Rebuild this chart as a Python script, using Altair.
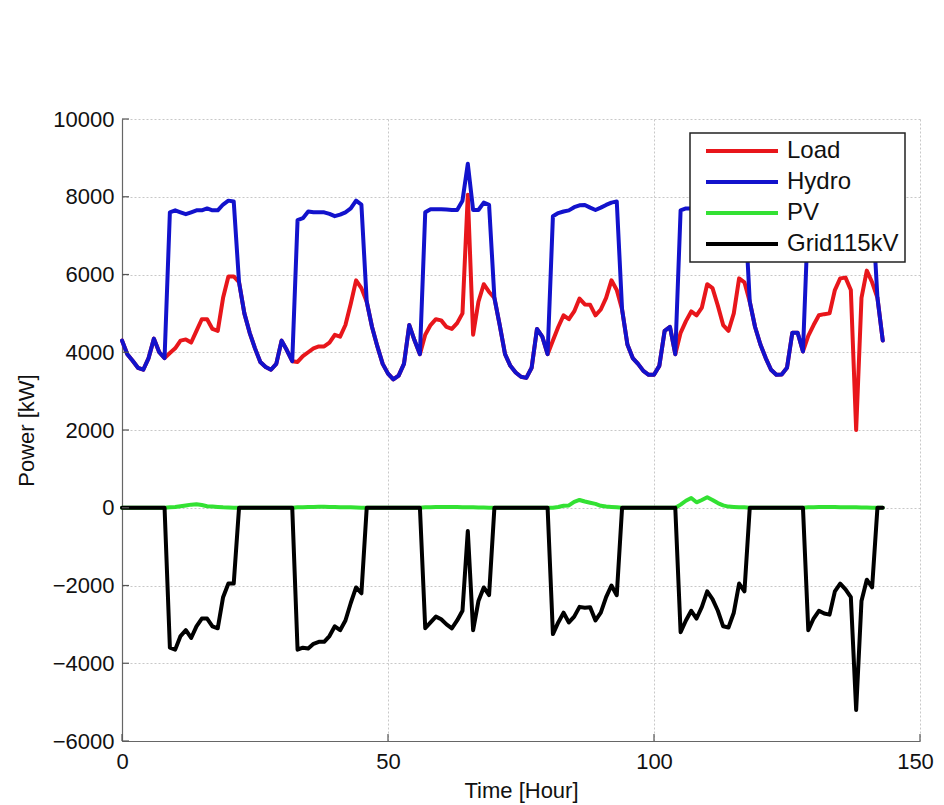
import altair as alt
import pandas as pd

hours = list(range(144))

# Hydro [kW], one row per day (24 h)
hydro = (
    [4300, 3950, 3780, 3600, 3550, 3850, 4350, 4000, 3850, 7600, 7650, 7600, 7550, 7600, 7650, 7650, 7700, 7650, 7650, 7800, 7900, 7880, 5800, 5000]
    + [4500, 4100, 3750, 3620, 3550, 3700, 4300, 4050, 3770, 7400, 7450, 7620, 7600, 7600, 7600, 7560, 7500, 7540, 7600, 7700, 7900, 7800, 5300, 4650]
    + [4150, 3700, 3450, 3300, 3400, 3700, 4700, 4300, 3950, 7600, 7680, 7680, 7680, 7670, 7660, 7660, 7900, 8850, 7660, 7660, 7850, 7790, 5400, 4700]
    + [3950, 3650, 3480, 3370, 3340, 3600, 4600, 4400, 3950, 7500, 7580, 7620, 7650, 7730, 7780, 7790, 7720, 7660, 7720, 7790, 7850, 7880, 5100, 4200]
    + [3850, 3700, 3520, 3420, 3420, 3650, 4550, 4650, 3950, 7650, 7700, 7700, 7750, 7700, 7800, 7800, 7800, 7750, 7650, 7700, 7900, 7900, 5300, 4650]
    + [4200, 3850, 3550, 3420, 3430, 3600, 4500, 4500, 4020, 7600, 7600, 7550, 7700, 7700, 7700, 7850, 8000, 7900, 7200, 7800, 7950, 7850, 5400, 4300]
)

# Load [kW]
load = (
    [4300, 3950, 3780, 3600, 3550, 3850, 4350, 4000, 3850, 3980, 4100, 4300, 4330, 4250, 4550, 4850, 4850, 4600, 4550, 5400, 5950, 5950, 5800, 5000]
    + [4500, 4100, 3750, 3620, 3550, 3700, 4300, 4050, 3770, 3750, 3900, 4000, 4100, 4150, 4150, 4250, 4450, 4400, 4700, 5250, 5850, 5650, 5300, 4650]
    + [4150, 3700, 3450, 3300, 3400, 3700, 4700, 4300, 3950, 4450, 4700, 4850, 4820, 4650, 4600, 4750, 5000, 8050, 4450, 5300, 5750, 5550, 5400, 4700]
    + [3950, 3650, 3480, 3370, 3340, 3600, 4600, 4400, 3950, 4300, 4650, 4950, 4850, 5050, 5380, 5230, 5220, 4950, 5100, 5400, 5850, 5600, 5100, 4200]
    + [3850, 3700, 3520, 3420, 3420, 3650, 4550, 4650, 3950, 4500, 4800, 5050, 4950, 5150, 5750, 5650, 5200, 4700, 4550, 5000, 5900, 5800, 5300, 4650]
    + [4200, 3850, 3550, 3420, 3430, 3600, 4500, 4500, 4020, 4420, 4700, 4950, 4980, 5000, 5600, 5900, 5920, 5600, 2000, 5400, 6100, 5800, 5400, 4300]
)

# PV [kW]
pv = (
    [0, 0, 0, 0, 0, 0, 0, 0, 0, 10, 20, 40, 60, 80, 90, 70, 40, 30, 20, 10, 5, 0, 0, 0]
    + [0, 0, 0, 0, 0, 0, 0, 0, 0, 10, 15, 20, 20, 25, 25, 20, 20, 15, 15, 10, 5, 0, 0, 0]
    + [0, 0, 0, 0, 0, 0, 0, 0, 0, 10, 15, 20, 20, 20, 20, 20, 15, 10, 10, 5, 5, 0, 0, 0]
    + [0, 0, 0, 0, 0, 0, 0, 0, 0, 0, 20, 50, 60, 150, 200, 160, 130, 100, 50, 30, 20, 10, 0, 0]
    + [0, 0, 0, 0, 0, 0, 0, 0, 0, 80, 180, 250, 140, 200, 270, 200, 120, 60, 30, 20, 10, 10, 0, 0]
    + [0, 0, 0, 0, 0, 0, 0, 0, 0, 10, 15, 20, 20, 20, 20, 15, 15, 10, 10, 5, 5, 0, 0, 0]
)

# Grid 115 kV [kW]
grid = (
    [0, 0, 0, 0, 0, 0, 0, 0, 0, -3600, -3650, -3300, -3150, -3350, -3050, -2850, -2850, -3050, -3100, -2300, -1950, -1950, 0, 0]
    + [0, 0, 0, 0, 0, 0, 0, 0, 0, -3650, -3600, -3620, -3500, -3450, -3450, -3300, -3050, -3150, -2900, -2450, -2050, -2200, 0, 0]
    + [0, 0, 0, 0, 0, 0, 0, 0, 0, -3100, -2950, -2800, -2870, -3000, -3100, -2900, -2650, -600, -3150, -2400, -2050, -2250, 0, 0]
    + [0, 0, 0, 0, 0, 0, 0, 0, 0, -3250, -2950, -2700, -2950, -2800, -2550, -2570, -2560, -2900, -2700, -2300, -2000, -2250, 0, 0]
    + [0, 0, 0, 0, 0, 0, 0, 0, 0, -3200, -2900, -2650, -2850, -2550, -2150, -2350, -2650, -3050, -3080, -2700, -1950, -2150, 0, 0]
    + [0, 0, 0, 0, 0, 0, 0, 0, 0, -3150, -2850, -2650, -2720, -2750, -2150, -1950, -2100, -2300, -5200, -2400, -1850, -2050, 0, 0]
)

series_names = ["Load", "Hydro", "PV", "Grid115kV"]
series_colors = ["#e8161b", "#1212cc", "#33e133", "#000000"]
x_ticks = [0, 50, 100, 150]
y_ticks = [-6000, -4000, -2000, 0, 2000, 4000, 6000, 8000, 10000]

frames = []
for name, vals in zip(series_names, [load, hydro, pv, grid]):
    frames.append(pd.DataFrame({"t": hours, "p": vals, "series": name}))
df = pd.concat(frames, ignore_index=True)

FONT = "Liberation Sans"

x_enc = alt.X(
    "t:Q",
    scale=alt.Scale(domain=[0, 150], nice=False, zero=False),
    axis=alt.Axis(values=x_ticks, title="Time [Hour]", ticks=False, labelPadding=10,
                  titlePadding=8, format="d", labelFlush=False,
                  labelOffset={"condition": {"test": "datum.value == 150", "value": -5}, "value": 0}),
)
y_enc = alt.Y(
    "p:Q",
    scale=alt.Scale(domain=[-6000, 10000], nice=False),
    axis=alt.Axis(values=y_ticks, title="Power [kW]", ticks=False, labelPadding=8,
                  titlePadding=14, format="d", labelFlush=False),
)
color_enc = alt.Color(
    "series:N",
    scale=alt.Scale(domain=series_names, range=series_colors),
    legend=alt.Legend(
        title=None, orient="none", legendX=568, legendY=14,
        symbolType="M-4,0H4", symbolSize=324, symbolStrokeWidth=4,
        symbolOffset=34, labelOffset=33,
        labelFontSize=24, labelFont=FONT, labelColor="#111111", labelLimit=300,
        fillColor="white", strokeColor="#222222", padding=6, rowPadding=7,
    ),
)

layers = []
for n in series_names:
    layers.append(
        alt.Chart(df).transform_filter(alt.datum.series == n)
        .mark_line(strokeWidth=4, strokeJoin="round", strokeCap="round")
        .encode(x=x_enc, y=y_enc, color=color_enc)
    )

ytick_layer = alt.Chart(pd.DataFrame({"p": y_ticks})).mark_rule(color="#555555", strokeWidth=1.2).encode(
    y=y_enc, x=alt.value(0), x2=alt.value(7)
)
xtick_layer = alt.Chart(pd.DataFrame({"t": x_ticks})).mark_rule(color="#555555", strokeWidth=1.2).encode(
    x=x_enc, y=alt.value(622), y2=alt.value(615)
)

chart = (
    alt.layer(*layers, ytick_layer, xtick_layer)
    .properties(
        width=798, height=622,
        padding={"left": 114, "top": 111, "right": 16, "bottom": 62},
        autosize=alt.AutoSizeParams(type="none"),
        background="white",
    )
    .configure_view(stroke=None)
    .configure_axis(
        labelFont=FONT, titleFont=FONT, labelFontSize=22, titleFontSize=22,
        labelColor="#111111", titleColor="#111111", titleFontWeight="normal",
        domainColor="#666666", domainWidth=1.2,
        grid=True, gridColor="#c8c8c8", gridDash=[2, 2], gridWidth=1,
    )
    .configure_legend(strokeWidth=1.5)
)

chart.save("out.html", embed_options={"renderer": "svg", "actions": False})
